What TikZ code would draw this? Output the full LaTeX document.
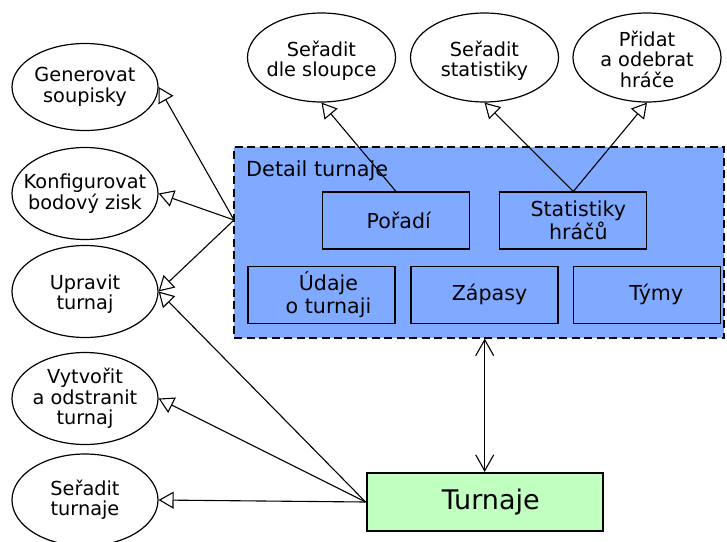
\documentclass[tikz,border=0pt]{standalone}
\usepackage{fontspec}
\setmainfont{DejaVu Sans}
\usetikzlibrary{shapes.geometric,arrows.meta}
\definecolor{detailblue}{RGB}{127,170,255}
\definecolor{listgreen}{RGB}{192,255,192}

\begin{document}
\begin{tikzpicture}[x=1pt,y=-1pt,
  usecase/.style={draw, ellipse, line width=1.2pt, minimum width=146pt,
    minimum height=92pt, inner xsep=-30pt, inner ysep=-10pt, align=center,
    font=\fontsize{19.3}{20.5}\selectfont},
  usetext/.style={align=center, inner sep=0pt, yshift=-3.5pt,
    font=\fontsize{19.3}{20.5}\selectfont},
  part/.style={draw, fill=detailblue, line width=1.2pt, minimum width=147pt,
    minimum height=57pt, inner sep=0pt},
  parttext/.style={align=center, inner sep=0pt, xshift=5pt,
    font=\fontsize{20.6}{23}\selectfont},
  container/.style={draw, dash pattern=on 8pt off 4.5pt, fill=detailblue,
    line width=1.2pt, inner sep=0pt},
  listbox/.style={draw, fill=listgreen, line width=2.2pt, minimum width=236pt,
    minimum height=58pt, inner sep=0pt, font=\fontsize{27}{30}\selectfont},
  extends/.style={line width=1.1pt,
    -{Triangle[open, length=15pt, width=17pt, fill=white]}},
  navigates/.style={line width=1.1pt,
    {Straight Barb[length=16pt, width=18pt]}-{Straight Barb[length=16pt, width=18pt]}}
]
\useasboundingbox (0,0) rectangle (727,541);

% detail container
\node[container, minimum width=490pt, minimum height=191pt] (detail) at (479,242.5) {};
\node[anchor=base west, inner sep=0pt, font=\fontsize{20.8}{23}\selectfont] (detaillabel) at (246,176) {Detail turnaje};

% use cases on the left
\node[usecase, minimum height=87pt] (gen)  at (85,87)    {Generovat\\soupisky};
\node[usecase] (konf) at (85,193.5)  {Konfigurovat\\bodový zisk};
\node[usecase, label={[usetext, yshift=1pt]center:Upravit\\turnaj}] (upr) at (85,291.5) {};
\node[usecase] (vytv) at (85,398.5)  {Vytvořit\\a odstranit\\turnaj};
\node[usecase] (sort) at (85,500)    {Seřadit\\turnaje};

% use cases on top
\node[usecase, minimum width=148pt, minimum height=89pt,
  label={[usetext]center:Seřadit\\dle sloupce}] (sloupec) at (321.5,57.5) {};
\node[usecase, minimum width=148pt, minimum height=89pt,
  label={[usetext]center:Seřadit\\statistiky}] (statsort) at (484.5,57.5) {};
\node[usecase, minimum width=148pt, minimum height=89pt,
  label={[usetext, yshift=2pt]center:Přidat\\a odebrat\\hráče}] (hraci) at (647,57.5) {};

% parts of the detail
\coordinate (poradiTop) at (396,191.5);
\coordinate (statTop) at (573.3,191.5);
\draw[extends] (poradiTop) -- (sloupec.south);
\draw[extends] (statTop) -- (statsort.south);
\draw[extends] (statTop) -- (hraci.south);

\node[part, label={[parttext, xshift=-2pt]center:Pořadí}] (poradi) at (395.7,220.5) {};
\node[part, label={[parttext]center:Statistiky\\hráčů}] (stat) at (573.3,220.5) {};
\node[part, label={[parttext, xshift=2pt]center:Údaje\\o turnaji}] (udaje) at (321.5,294.7) {};
\node[part, label={[parttext]center:Zápasy}] (zapasy) at (484.5,294.7) {};
\node[part, label={[parttext, xshift=4pt]center:Týmy}] (tymy) at (647.3,294.7) {};

% tournament list
\node[listbox] (turnaje) at (484.7,502) {\hspace*{12pt}Turnaje};

% connectors
\coordinate (detailLeft) at (234,220);
\draw[extends] (detailLeft) -- (gen.east);
\draw[extends] (detailLeft) -- (konf.east);
\draw[extends] (detailLeft) -- (upr.east);
\draw[extends] (turnaje.west) -- (upr.east);
\draw[extends] (turnaje.west) -- (vytv.east);
\draw[extends] (turnaje.west) -- (sort.east);
\draw[navigates] (turnaje.north |- detail.south) -- (turnaje.north);
\end{tikzpicture}
\end{document}
